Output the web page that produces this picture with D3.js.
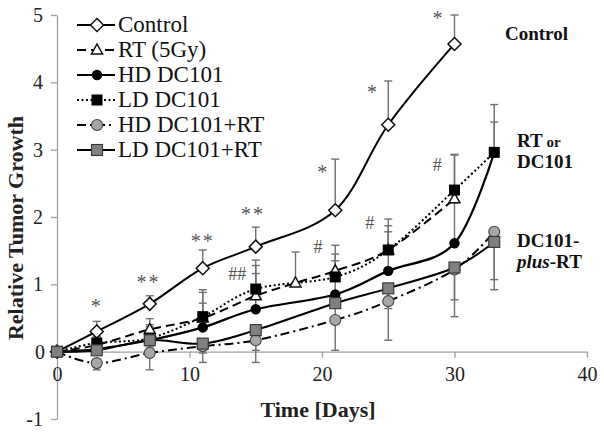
<!DOCTYPE html>
<html><head><meta charset="utf-8">
<script src="https://cdn.jsdelivr.net/npm/d3@7"></script>
<style>body{margin:0;background:#fff;} svg{display:block;}</style>
</head><body>
<svg id="c" width="604" height="434"></svg>
<script>
// ---- data ----
const days = [0, 3, 7, 11, 15, 21, 25, 30, 33];
const controlDays = [0, 3, 7, 11, 15, 21, 25, 30];
const rtDays = [0, 3, 7, 11, 15, 18, 21, 25, 30];

const control = [0, 0.30, 0.71, 1.24, 1.56, 2.10, 3.37, 4.57];
const controlErrUp = [0, 0.15, 0.12, 0.27, 0.29, 0.76, 0.65, 0.43];

const rt = [0, 0.10, 0.33, 0.50, 0.83, 1.02, 1.20, 1.51, 2.27];
const rtErrUp = [0, 0.12, 0.16, 0.38, 0.45, 0.46, 0.25, 0.36, 0.65];

const hd = [0, 0.04, 0.17, 0.36, 0.63, 0.85, 1.20, 1.61, 2.96];
const hdErrUp = [0, 0.08, 0.20, 0.36, 0.53, 0.50, 0.58, 0.60, 0.45];

const ld = [0, 0.13, 0.20, 0.52, 0.93, 1.11, 1.51, 2.40, 2.96];
const ldErrUp = [0, 0.10, 0.20, 0.40, 0.43, 0.47, 0.46, 0.53, 0.71];

const hdrt = [0, -0.17, -0.02, 0.08, 0.17, 0.47, 0.75, 1.22, 1.78];
const hdrtErrDown = [0, 0.10, 0.25, 0.10, 0.33, 0.45, 0.58, 0.70, 0.86];

const ldrt = [0, 0.02, 0.17, 0.12, 0.32, 0.72, 0.94, 1.25, 1.63];
const ldrtErrDown = [0, 0.05, 0.10, 0.28, 0.30, 0.30, 0.30, 0.48, 0.56];

const xTicks = [0, 10, 20, 30, 40];
const yTicks = [-1, 0, 1, 2, 3, 4, 5];
const seriesNames = ["Control", "RT (5Gy)", "HD DC101", "LD DC101", "HD DC101+RT", "LD DC101+RT"];

// significance annotations (day, value of symbol centre)
const stars = [
  {t: "*", d: 3.0, v: 0.72}, {t: "**", d: 6.9, v: 1.08}, {t: "**", d: 11.0, v: 1.69},
  {t: "**", d: 14.8, v: 2.09}, {t: "*", d: 20.1, v: 2.71}, {t: "*", d: 23.85, v: 3.90},
  {t: "*", d: 28.8, v: 5.0}
];
const hashes = [
  {t: "##", d: 13.6, v: 1.15}, {t: "#", d: 19.7, v: 1.55},
  {t: "#", d: 23.6, v: 1.91}, {t: "#", d: 28.7, v: 2.77}
];

// ---- chart ----
const svg = d3.select("#c");
const x = d3.scaleLinear().domain([0, 40]).range([57, 587]);
const y = d3.scaleLinear().domain([-1, 5]).range([419, 15]);
const serif = "'Liberation Serif','Times New Roman',serif";
const axisCol = "#a0a0a0";

// axes
const gy = svg.append("g").attr("transform", `translate(${x(0)},0)`)
  .call(d3.axisLeft(y).tickValues(yTicks).tickFormat(d => String(d)).tickSize(6).tickSizeOuter(0).tickPadding(8));
const gx = svg.append("g").attr("transform", `translate(0,${y(0)})`)
  .call(d3.axisBottom(x).tickValues(xTicks).tickFormat(d => String(d)).tickSize(6).tickSizeOuter(0).tickPadding(9));
[gx, gy].forEach(g => {
  g.attr("font-family", null).style("font-family", serif);
  g.select(".domain").attr("stroke", axisCol).attr("stroke-width", 1.3);
  g.selectAll(".tick line").attr("stroke", axisCol).attr("stroke-width", 1.3);
  g.selectAll("text").style("font-family", serif).style("font-size", "20px").attr("fill", "#222");
});
gy.selectAll(".tick").filter(d => d === 0).select("text").attr("x", -12);

svg.append("text").attr("x", 318).attr("y", 417).attr("text-anchor", "middle")
  .style("font-family", serif).attr("font-weight", "bold").attr("font-size", 22).attr("fill", "#222")
  .text("Time [Days]");
svg.append("text").attr("transform", "translate(23,228) rotate(-90)").attr("text-anchor", "middle")
  .style("font-family", serif).attr("font-weight", "bold").attr("font-size", 22).attr("fill", "#222")
  .text("Relative Tumor Growth");

const series = [
  {name: seriesNames[0], dx: controlDays, v: control, up: controlErrUp, dash: null, w: 2, sym: "diamond"},
  {name: seriesNames[1], dx: rtDays, v: rt, up: rtErrUp, dash: "9,5", w: 2, sym: "triangle"},
  {name: seriesNames[2], dx: days, v: hd, up: hdErrUp, dash: null, w: 2.2, sym: "circleBlack"},
  {name: seriesNames[3], dx: days, v: ld, up: ldErrUp, dash: "2,2.5", w: 2, sym: "squareBlack"},
  {name: seriesNames[4], dx: days, v: hdrt, down: hdrtErrDown, dash: "9,4,2,4", w: 2, sym: "circleGray"},
  {name: seriesNames[5], dx: days, v: ldrt, down: ldrtErrDown, dash: null, w: 2, sym: "squareGray"}
];

const line = d3.line().curve(d3.curveCardinal.tension(0)).x(d => x(d[0])).y(d => y(d[1]));

function drawSym(g, sym, cx, cy) {
  if (sym === "diamond") {
    g.append("path").attr("d", `M${cx},${cy-6.5}L${cx+6.5},${cy}L${cx},${cy+6.5}L${cx-6.5},${cy}Z`)
      .attr("fill", "#fff").attr("stroke", "#111").attr("stroke-width", 1.5);
  } else if (sym === "triangle") {
    g.append("path").attr("d", `M${cx},${cy-6}L${cx+5.5},${cy+4}L${cx-5.5},${cy+4}Z`)
      .attr("fill", "#fff").attr("stroke", "#111").attr("stroke-width", 1.5);
  } else if (sym === "circleBlack") {
    g.append("circle").attr("cx", cx).attr("cy", cy).attr("r", 5.2).attr("fill", "#000");
  } else if (sym === "squareBlack") {
    g.append("rect").attr("x", cx-5.5).attr("y", cy-5.5).attr("width", 11).attr("height", 11).attr("fill", "#000");
  } else if (sym === "circleGray") {
    g.append("circle").attr("cx", cx).attr("cy", cy).attr("r", 5.5).attr("fill", "#a6a6a6").attr("stroke", "#444").attr("stroke-width", 1.1);
  } else if (sym === "squareGray") {
    g.append("rect").attr("x", cx-5.5).attr("y", cy-5.5).attr("width", 11).attr("height", 11)
      .attr("fill", "#808080").attr("stroke", "#333").attr("stroke-width", 1.1);
  }
}

// lines
series.forEach(s => {
  svg.append("path").datum(s.dx.map((d, i) => [d, s.v[i]]))
    .attr("d", line).attr("fill", "none").attr("stroke", "#000").attr("stroke-width", s.w)
    .attr("stroke-dasharray", s.dash);
});
// error bars
const eb = svg.append("g").attr("stroke", "#707070").attr("stroke-width", 1.4);
series.forEach(s => {
  s.dx.forEach((d, i) => {
    const e = s.up ? s.up[i] : -s.down[i];
    if (!e) return;
    const x0 = x(d), y0 = y(s.v[i]), y1 = y(s.v[i] + e);
    eb.append("line").attr("x1", x0).attr("x2", x0).attr("y1", y0).attr("y2", y1);
    eb.append("line").attr("x1", x0-4).attr("x2", x0+4).attr("y1", y1).attr("y2", y1);
  });
});
// markers
series.forEach(s => {
  const g = svg.append("g");
  s.dx.forEach((d, i) => drawSym(g, s.sym, x(d), y(s.v[i])));
});

// annotations
stars.forEach(a => svg.append("text").attr("x", x(a.d)).attr("y", y(a.v) + 10).attr("text-anchor", "middle")
  .style("font-family", serif).attr("font-size", 20).attr("fill", "#555").attr("letter-spacing", 2).text(a.t));
hashes.forEach(a => svg.append("text").attr("x", x(a.d)).attr("y", y(a.v) + 6).attr("text-anchor", "middle")
  .style("font-family", serif).attr("font-size", 18).attr("fill", "#555").text(a.t));

// legend
const lg = svg.append("g");
series.forEach((s, i) => {
  const ly = 25 + i * 25;
  lg.append("line").attr("x1", 77).attr("x2", 115).attr("y1", ly).attr("y2", ly)
    .attr("stroke", "#000").attr("stroke-width", s.w).attr("stroke-dasharray", s.dash);
  drawSym(lg, s.sym, 97, ly);
  lg.append("text").attr("x", 118).attr("y", ly + 7).style("font-family", serif).attr("font-size", 23)
    .attr("fill", "#111").text(s.name);
});

// right-side group labels
const rl = svg.append("g").style("font-family", serif).attr("font-weight", "bold").attr("fill", "#111");
rl.append("text").attr("x", 505).attr("y", 40).attr("font-size", 19).text("Control");
const t1 = rl.append("text").attr("x", 517).attr("y", 147).attr("font-size", 19);
t1.append("tspan").text("RT");
t1.append("tspan").attr("font-size", 15).text(" or");
rl.append("text").attr("x", 517).attr("y", 168).attr("font-size", 19).text("DC101");
rl.append("text").attr("x", 517).attr("y", 247).attr("font-size", 19).text("DC101-");
const t2 = rl.append("text").attr("x", 517).attr("y", 268).attr("font-size", 19);
t2.append("tspan").attr("font-style", "italic").text("plus");
t2.append("tspan").text("-RT");
</script>
</body></html>
